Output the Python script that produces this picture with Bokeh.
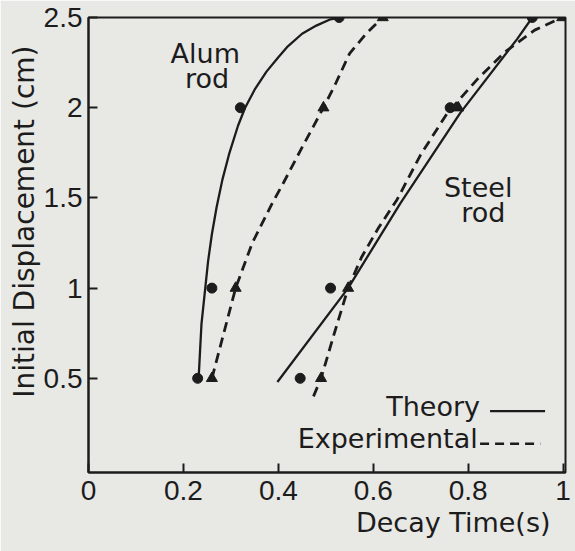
import math
from bokeh.plotting import figure
from bokeh.models import Range1d, FixedTicker, Label, Title
from bokeh.embed import file_html
from bokeh.resources import INLINE

# ---- data ----
levels = [0.5, 1.0, 2.0, 2.5]
alum_theory_x = [0.23, 0.26, 0.32, 0.528]
alum_exp_x = [0.26, 0.31, 0.495, 0.62]
steel_theory_x = [0.446, 0.51, 0.762, 0.935]
steel_exp_x = [0.49, 0.547, 0.779, 0.998]

alum_theory_curve_x = [0.232, 0.235, 0.238, 0.242, 0.246, 0.252, 0.26, 0.27, 0.282, 0.297,
                       0.315, 0.33, 0.35, 0.375, 0.40, 0.42, 0.45, 0.48, 0.51, 0.528]
alum_theory_curve_y = [0.5, 0.65, 0.8, 0.9, 1.0, 1.15, 1.3, 1.45, 1.6, 1.75,
                       1.9, 2.0, 2.1, 2.2, 2.28, 2.34, 2.41, 2.455, 2.49, 2.5]
alum_exp_curve_x = [0.26, 0.285, 0.31, 0.345, 0.387, 0.41, 0.45, 0.495, 0.52, 0.55, 0.585, 0.62]
alum_exp_curve_y = [0.5, 0.75, 1.0, 1.25, 1.47, 1.58, 1.78, 2.0, 2.13, 2.30, 2.41, 2.5]
steel_theory_curve_x = [0.398, 0.547, 0.657, 0.783, 0.903, 0.935]
steel_theory_curve_y = [0.48, 1.0, 1.47, 1.97, 2.38, 2.5]
steel_exp_curve_x = [0.474, 0.49, 0.518, 0.547, 0.575, 0.61, 0.65, 0.70, 0.756, 0.82, 0.878, 0.94, 0.998]
steel_exp_curve_y = [0.40, 0.5, 0.75, 1.0, 1.17, 1.33, 1.49, 1.74, 1.97, 2.16, 2.31, 2.43, 2.5]

x_ticks = [0, 0.2, 0.4, 0.6, 0.8, 1.0]
x_tick_labels = ["0", "0.2", "0.4", "0.6", "0.8", "1"]
y_ticks = [0.5, 1.0, 1.5, 2.0, 2.5]
y_tick_labels = ["0.5", "1", "1.5", "2", "2.5"]

# ---- style ----
INK = "#1c1c1c"
BG = "#e8e8e5"
TXT_FONT = "DejaVu Sans"
TICK_FONT = "Liberation Sans"

p = figure(width=575, height=551, output_backend="svg", toolbar_location=None,
           x_range=Range1d(0, 1.005), y_range=Range1d(-0.022, 2.5),
           min_border_left=88, min_border_right=10, min_border_top=17, min_border_bottom=79)
p.background_fill_color = BG
p.border_fill_color = BG
p.outline_line_color = INK
p.outline_line_width = 2
p.grid.visible = False

for ax, ticks, labels in ((p.xaxis[0], x_ticks, x_tick_labels), (p.yaxis[0], y_ticks, y_tick_labels)):
    ax.ticker = FixedTicker(ticks=ticks)
    ax.major_label_overrides = {t: l for t, l in zip(ticks, labels)}
    ax.axis_line_color = INK
    ax.axis_line_width = 2
    ax.major_tick_line_color = INK
    ax.major_tick_line_width = 2
    ax.major_tick_in = 9
    ax.major_tick_out = 0
    ax.minor_tick_line_color = None
    ax.major_label_text_font = TICK_FONT
    ax.major_label_text_font_size = "28px"
    ax.major_label_text_color = INK
p.xaxis.major_label_standoff = 8
p.yaxis.major_label_standoff = 6

# curves
p.line(alum_theory_curve_x, alum_theory_curve_y, line_color=INK, line_width=2.3)
p.line(steel_theory_curve_x, steel_theory_curve_y, line_color=INK, line_width=2.3)
p.line(alum_exp_curve_x, alum_exp_curve_y, line_color=INK, line_width=2.8, line_dash="10 6")
p.line(steel_exp_curve_x, steel_exp_curve_y, line_color=INK, line_width=2.8, line_dash="10 6")

# points
p.scatter(alum_theory_x, levels, marker="circle", size=10, fill_color=INK, line_color=INK)
p.scatter(steel_theory_x, levels, marker="circle", size=10, fill_color=INK, line_color=INK)
p.scatter(alum_exp_x, levels, marker="triangle", size=11, fill_color=INK, line_color=INK)
p.scatter(steel_exp_x, levels, marker="triangle", size=11, fill_color=INK, line_color=INK)

def lab(text, x, y, align="center", size="27px"):
    p.add_layout(Label(x=x, y=y, text=text, text_align=align, text_baseline="alphabetic",
                       text_font=TXT_FONT, text_font_size=size, text_color=INK))

lab("Alum", 0.246, 2.30)
lab("rod", 0.25, 2.16)
lab("Steel", 0.821, 1.56)
lab("rod", 0.832, 1.42)
lab("Theory", 0.825, 0.345, align="right")
lab("Experimental", 0.82, 0.165, align="right")

# legend sample lines
p.line([0.846, 0.962], [0.318, 0.318], line_color=INK, line_width=2.3)
p.line([0.825, 0.952], [0.137, 0.137], line_color=INK, line_width=2.5, line_dash="9 6")

# axis titles
xt = Title(text="Decay Time(s)", align="right", offset=15, standoff=5,
           text_font=TXT_FONT, text_font_size="27px", text_font_style="normal", text_color=INK)
p.add_layout(xt, "below")
yt = Title(text="Initial Displacement (cm)", align="right", offset=28, standoff=0,
           text_font=TXT_FONT, text_font_size="28px", text_font_style="normal", text_color=INK)
p.add_layout(yt, "left")

open("out.html", "w").write(file_html(p, INLINE))
